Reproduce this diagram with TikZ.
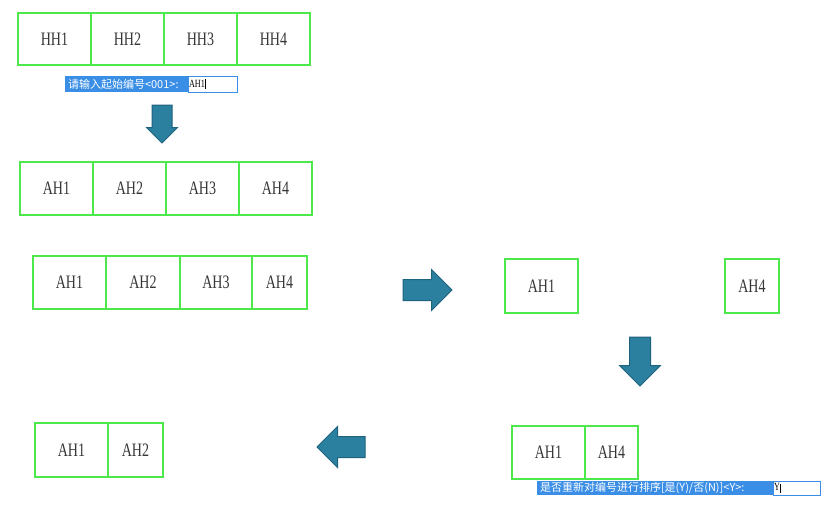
\documentclass[tikz,border=0pt]{standalone}
\usepackage{fontspec}
\newfontfamily\cellfont{Liberation Serif}[FakeStretch=0.74]
\newfontfamily\cjk{Noto Sans CJK SC}
\usetikzlibrary{shapes.arrows}

\definecolor{cellgreen}{RGB}{76,232,76}
\definecolor{arrowteal}{RGB}{43,128,160}
\definecolor{arrowedge}{RGB}{30,98,126}
\definecolor{promptblue}{RGB}{58,142,230}
\definecolor{labelgray}{RGB}{55,55,55}

\tikzset{
	cell/.style = {draw = cellgreen, line width = 2.4pt, outer sep = 0pt, inner sep = 0pt,
		anchor = north west, font = \cellfont\fontsize{19}{19}\selectfont, text = labelgray},
	blockarrow/.style = {single arrow, draw = arrowedge, fill = arrowteal, line width = 1pt, outer sep = 0pt,
		inner xsep = 0pt, inner ysep = 10pt, single arrow head extend = 10pt, anchor = tail},
	prompt/.style = {fill = promptblue, text = white, inner xsep = 3pt, inner ysep = 0pt, outer sep = 0pt,
		anchor = north west, align = left, font = \cjk\fontsize{11}{11}\selectfont},
	promptin/.style = {draw = promptblue, fill = white, line width = 0.8pt, inner xsep = 1pt, inner ysep = 0pt,
		outer sep = 0pt, anchor = west, align = left, font = \cellfont\fontsize{11}{11}\selectfont}
}

\begin{document}
\begin{tikzpicture}[x = 1pt, y = -1pt]

	\fill [white] (0, 0) rectangle (831, 517);
	\useasboundingbox (0, 0) rectangle (831, 517);

	% Original numbers
	
	\foreach \n [count = \i from 0] in {1, 2, 3, 4}
		\node [cell, minimum width = 73pt, minimum height = 52pt] (hh\n) at (18 + 73*\i, 13) {HH\n};

	% Start number prompt
	
	\node [prompt, text width = 117pt, minimum height = 16pt] (ask) at (65, 76) {请输入起始编号<001>:};
	\node [promptin, text width = 47pt, minimum height = 16pt] (askin) at (ask.east) {AH1\rule[-2pt]{0.6pt}{10pt}};
	
	\node [blockarrow, rotate = -90, minimum height = 38pt, inner ysep = 9.5pt, single arrow head extend = 5.5pt] (down1) at (162, 105) {};

	% Renumbered
	
	\foreach \n [count = \i from 0] in {1, 2, 3, 4}
		\node [cell, minimum width = 73pt, minimum height = 53pt] (ah\n) at (20 + 73*\i, 162) {AH\n};

	% Picked up again
	
	\node [cell, minimum width = 73pt, minimum height = 53pt] (pa1) at (33, 256) {AH1};
	\node [cell, minimum width = 74pt, minimum height = 53pt] (pa2) at (106, 256) {AH2};
	\node [cell, minimum width = 72pt, minimum height = 53pt] (pa3) at (180, 256) {AH3};
	\node [cell, minimum width = 55pt, minimum height = 53pt] (pa4) at (252, 256) {AH4};
	
	\node [blockarrow, minimum height = 49pt] (right1) at (403, 290) {};

	% Only the ends are kept
	
	\node [cell, minimum width = 73pt, minimum height = 54pt] (ka1) at (505, 259) {AH1};
	\node [cell, minimum width = 54pt, minimum height = 54pt] (ka4) at (725, 259) {AH4};
	
	\node [blockarrow, rotate = -90, minimum height = 49pt] (down2) at (640, 337) {};

	% Joined, then sort prompt
	
	\node [cell, minimum width = 73pt, minimum height = 53pt] (ja1) at (512, 426) {AH1};
	\node [cell, minimum width = 53pt, minimum height = 53pt] (ja4) at (585, 426) {AH4};
	
	\node [prompt, text width = 230pt, minimum height = 14pt] (sort) at (537, 481) {是否重新对编号进行排序[是(Y)/否(N)]<Y>:};
	\node [promptin, text width = 45pt, minimum height = 14pt] (sortin) at (sort.east) {Y\rule[-2pt]{0.6pt}{9pt}};
	
	\node [blockarrow, rotate = 180, minimum height = 48pt] (left1) at (365, 447) {};

	% Sorted result
	
	\node [cell, minimum width = 73pt, minimum height = 54pt] (sr1) at (35, 423) {AH1};
	\node [cell, minimum width = 55pt, minimum height = 54pt] (sr2) at (108, 423) {AH2};

\end{tikzpicture}
\end{document}
